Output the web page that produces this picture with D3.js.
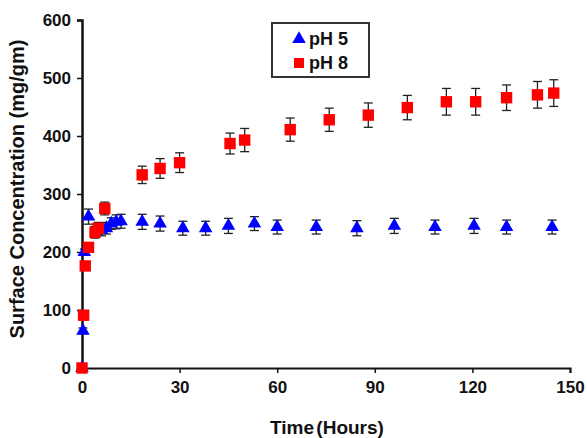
<!DOCTYPE html>
<html lang="en">
<head>
    <meta charset="UTF-8">
    <title>Surface Concentration vs Time</title>
    <script src="https://d3js.org/d3.v7.min.js"></script>
    <style>
        body {
            margin: 0;
            background-color: white;
            font-family: "Liberation Sans", Arial, sans-serif;
        }
        .axis path, .axis line {
            stroke: #111;
        }
        .axis text {
            font-size: 17px;
            font-weight: bold;
            fill: #111;
        }
        .errbar {
            stroke: #222;
            stroke-width: 1.3;
        }
    </style>
</head>
<body>
    <div id="chart"></div>

    <script>
        // pH 5 series (blue triangles)
        const ph5Time = [0, 0.3, 0.7, 2, 6, 7.5, 9, 10.5, 12, 18.5, 24, 31, 38, 45, 53, 60, 72, 84.5, 96, 108.5, 120.5, 130.5, 144.5];
        const ph5Value = [0, 64, 200, 261, 238, 241, 249, 252, 253, 252, 249, 241, 241, 245, 249, 243, 243, 241, 245, 243, 245, 243, 243];
        const ph5Error = [0, 5, 5, 13, 10, 10, 10, 12, 12, 13, 13, 12, 12, 13, 12, 12, 12, 13, 13, 12, 13, 12, 12];

        // pH 8 series (red squares)
        const ph8Time = [0, 0.5, 1, 2, 4, 5, 7, 18.5, 24, 30, 45.5, 50, 64, 76, 88, 100, 112, 121, 130.5, 140, 145];
        const ph8Value = [0, 91, 176, 208, 234, 241, 275, 333, 344, 354, 387, 393, 411, 428, 436, 449, 459, 459, 466, 471, 474];
        const ph8Error = [0, 0, 5, 8, 10, 10, 11, 15, 17, 17, 18, 20, 20, 20, 21, 21, 23, 23, 22, 23, 23];

        const xTicks = [0, 30, 60, 90, 120, 150];
        const yTicks = [0, 100, 200, 300, 400, 500, 600];

        const width = 587, height = 438;
        const margin = {top: 20, right: 17, bottom: 70, left: 82};

        const svg = d3.select("#chart")
            .append("svg")
            .attr("width", width)
            .attr("height", height);

        const x = d3.scaleLinear()
            .domain([0, 150])
            .range([margin.left, width - margin.right]);

        const y = d3.scaleLinear()
            .domain([0, 600])
            .range([height - margin.bottom, margin.top]);

        const series = [
            {name: "pH 5", time: ph5Time, value: ph5Value, error: ph5Error, color: "#0000ff", symbol: d3.symbolTriangle},
            {name: "pH 8", time: ph8Time, value: ph8Value, error: ph8Error, color: "#ff0000", symbol: d3.symbolSquare}
        ];

        // axes
        svg.append("g")
            .attr("class", "axis")
            .attr("transform", `translate(0,${y(0)})`)
            .call(d3.axisBottom(x).tickValues(xTicks).tickSize(5).tickPadding(8))
            .call(g => g.select(".domain").attr("stroke-width", 2))
            .call(g => g.selectAll(".tick line").attr("stroke-width", 1.5));

        svg.append("g")
            .attr("class", "axis")
            .attr("transform", `translate(${x(0)},0)`)
            .call(d3.axisLeft(y).tickValues(yTicks).tickSize(5).tickPadding(6))
            .call(g => g.select(".domain").attr("stroke-width", 2.5))
            .call(g => g.selectAll(".tick line").attr("stroke-width", 1.5));

        // axis titles
        svg.append("text")
            .attr("x", (x(0) + x(150)) / 2 + 1)
            .attr("y", 434)
            .attr("text-anchor", "middle")
            .attr("font-size", 19)
            .attr("font-weight", "bold")
            .attr("word-spacing", -3)
            .attr("fill", "#111")
            .text("Time (Hours)");

        svg.append("text")
            .attr("transform", "translate(24,189) rotate(-90)")
            .attr("text-anchor", "middle")
            .attr("font-size", 20)
            .attr("font-weight", "bold")
            .attr("fill", "#111")
            .text("Surface Concentration (mg/gm)");

        // markers and error bars
        series.forEach(s => {
            const pts = s.time.map((t, i) => ({t: t, v: s.value[i], e: s.error[i]}));
            const g = svg.append("g");

            const bars = g.selectAll("g.err")
                .data(pts.filter(d => d.e > 0))
                .join("g")
                .attr("class", "err");

            bars.append("line")
                .attr("class", "errbar")
                .attr("x1", d => x(d.t)).attr("x2", d => x(d.t))
                .attr("y1", d => y(d.v + d.e)).attr("y2", d => y(d.v - d.e));
            bars.append("line")
                .attr("class", "errbar")
                .attr("x1", d => x(d.t) - 4.5).attr("x2", d => x(d.t) + 4.5)
                .attr("y1", d => y(d.v + d.e)).attr("y2", d => y(d.v + d.e));
            bars.append("line")
                .attr("class", "errbar")
                .attr("x1", d => x(d.t) - 4.5).attr("x2", d => x(d.t) + 4.5)
                .attr("y1", d => y(d.v - d.e)).attr("y2", d => y(d.v - d.e));

            g.selectAll("path.mark")
                .data(pts)
                .join("path")
                .attr("class", "mark")
                .attr("d", d3.symbol().type(s.symbol).size(s.symbol === d3.symbolSquare ? 130 : 80))
                .attr("transform", d => `translate(${x(d.t)},${y(d.v)})`)
                .attr("fill", s.color);
        });

        // legend
        const legend = svg.append("g");
        legend.append("rect")
            .attr("x", 272).attr("y", 23)
            .attr("width", 97).attr("height", 54)
            .attr("fill", "white")
            .attr("stroke", "#333")
            .attr("stroke-width", 2);

        series.forEach((s, i) => {
            const cy = 39 + i * 24;
            legend.append("path")
                .attr("d", d3.symbol().type(s.symbol).size(s.symbol === d3.symbolSquare ? 100 : 80))
                .attr("transform", `translate(299,${cy})`)
                .attr("fill", s.color);
            legend.append("text")
                .attr("x", 309)
                .attr("y", cy + 6)
                .attr("font-size", 18)
                .attr("font-weight", "bold")
                .attr("fill", "#111")
                .text(s.name);
        });
    </script>
</body>
</html>
